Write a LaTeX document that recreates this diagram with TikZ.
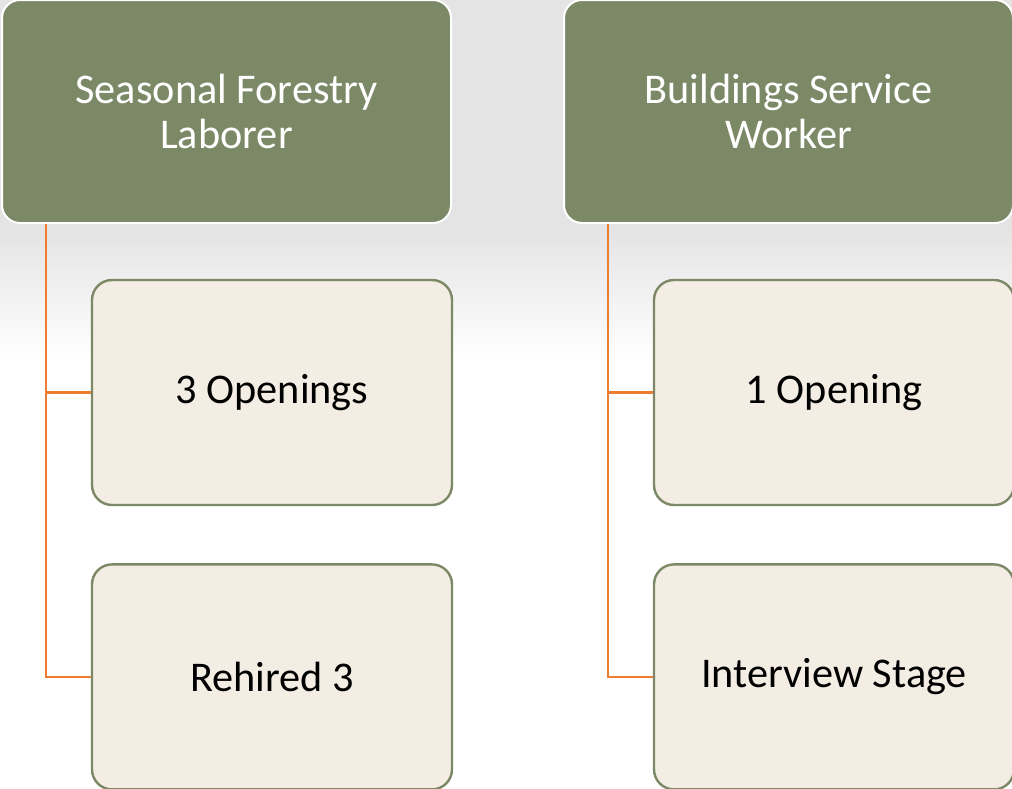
\documentclass[tikz,border=0pt]{standalone}
\usepackage{fontspec}
\setmainfont{Carlito}
\usepackage{tikz}
\usetikzlibrary{positioning, calc}

\definecolor{olive}{HTML}{7C8966}
\definecolor{cream}{HTML}{F3EDE4}
\definecolor{linkorange}{HTML}{ED7D31}
\definecolor{bggray}{HTML}{E4E4E4}

\begin{document}
\begin{tikzpicture} [x=1pt, y=1pt, font=\fontsize{42.3}{45}\selectfont,
	jobbox/.style={draw=white, line width=2pt, fill=olive, text=white, rounded corners=18pt, align=center, minimum width=449pt, minimum height=223pt, inner sep=0pt},
	leafbox/.style={draw=olive, line width=2.4pt, fill=cream, text=black, rounded corners=20pt, align=center, minimum width=360pt, minimum height=225pt, inner sep=0pt},
	link/.style={draw=linkorange, line width=2.5pt}]
	\useasboundingbox (0,0) rectangle (1012,-788);
	% slide background
	\fill [bggray] (0,0) rectangle (1012,-230);
	\shade [top color=bggray, bottom color=white] (0,-230) rectangle (1012,-360);
	% left branch
	\node [jobbox] (sfl) at (226.5,-111.5) {Seasonal Forestry\\Laborer};
	\node [leafbox] (open3) at (272,-392.5) {3 Openings};
	\node [leafbox,below=57pt of open3] (rehire) {Rehired 3};
	% right branch
	\node [jobbox] (bsw) at (788.5,-111.5) {Buildings Service\\Worker};
	\node [leafbox] (open1) at (834,-392.5) {1 Opening};
	\node [leafbox,below=57pt of open1] (interview) {Interview Stage};
	% connectors
	\coordinate (sflroot) at ($(sfl.south west)+(45,0)$);
	\coordinate (bswroot) at ($(bsw.south west)+(45,0)$);
	\draw [link] (sflroot) |- (open3.west);
	\draw [link] (sflroot) |- (rehire.west);
	\draw [link] (bswroot) |- (open1.west);
	\draw [link] (bswroot) |- (interview.west);
\end{tikzpicture}
\end{document}
